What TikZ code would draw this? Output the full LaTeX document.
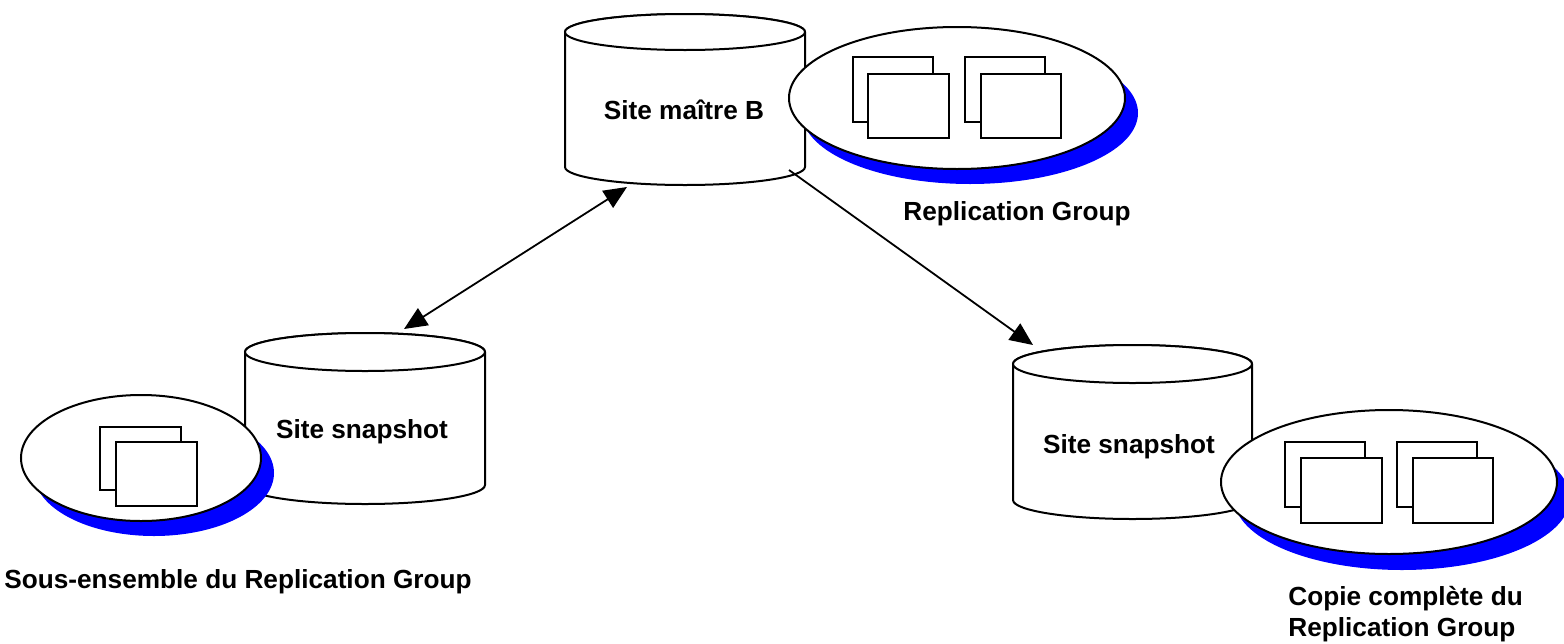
\documentclass[tikz,border=0pt]{standalone}
\usepackage{fontspec}
\setmainfont{Liberation Sans}
\usetikzlibrary{arrows.meta}
\definecolor{shadowblue}{RGB}{0,0,255}
\tikzset{
  outline/.style={draw=black, line width=1pt, fill=white},
  shadowfill/.style={fill=shadowblue, draw=none},
  lbl/.style={font=\fontsize{13.1}{15.5}\selectfont\bfseries, inner sep=0pt},
  conn/.style={draw=black, line width=0.9pt},
  tip/.style={-{Triangle[length=11.5pt,width=10pt]}},
  tips/.style={{Triangle[length=11.5pt,width=10pt]}-{Triangle[length=11.5pt,width=10pt]}}
}
\begin{document}
\begin{tikzpicture}[x=0.5pt,y=0.5pt]
\useasboundingbox (0,0) rectangle (1564,-643);
\fill[white] (0,0) rectangle (1564,-643);

% ---------- master cylinder ----------
\path[outline] (565,-32) -- (565,-167) arc[start angle=180,end angle=360,x radius=120,y radius=18] -- (805,-32) arc[start angle=0,end angle=180,x radius=120,y radius=18] -- cycle;
\draw[outline] (685,-32) ellipse [x radius=120, y radius=18];
\node[lbl] (master) at (684,-110) {Site maître B};

% ---------- left snapshot cylinder ----------
\path[outline] (245,-352) -- (245,-485) arc[start angle=180,end angle=360,x radius=120,y radius=19] -- (485,-352) arc[start angle=0,end angle=180,x radius=120,y radius=19] -- cycle;
\draw[outline] (365,-352) ellipse [x radius=120, y radius=19];
\node[lbl] (snapL) at (362,-432) {Site snapshot};

% ---------- right snapshot cylinder ----------
\path[outline] (1013,-364) -- (1013,-500) arc[start angle=180,end angle=360,x radius=119.5,y radius=19] -- (1252,-364) arc[start angle=0,end angle=180,x radius=119.5,y radius=19] -- cycle;
\draw[outline] (1132.5,-364) ellipse [x radius=119.5, y radius=19];
\node[lbl] (snapR) at (1129,-447) {Site snapshot};

% ---------- top replication group ----------
\fill[shadowfill] (970,-113) ellipse [x radius=168, y radius=71];
\draw[outline] (957,-98) ellipse [x radius=168, y radius=71];
\draw[outline] (853,-57) rectangle (933,-122);
\draw[outline] (868,-74) rectangle (949,-138);
\draw[outline] (965,-57) rectangle (1045,-122);
\draw[outline] (981,-74) rectangle (1061,-138);
\node[lbl] (rgT) at (1017,-214) {Replication Group};

% ---------- left subset group ----------
\fill[shadowfill] (154,-473) ellipse [x radius=120, y radius=63];
\draw[outline] (141,-458) ellipse [x radius=120, y radius=63];
\draw[outline] (100,-427) rectangle (181,-490);
\draw[outline] (116,-442) rectangle (197,-506);
\node[lbl] (rgL) at (238,-582) {Sous-ensemble du Replication Group};

% ---------- right full copy group ----------
\fill[shadowfill] (1402,-498) ellipse [x radius=168, y radius=72];
\draw[outline] (1389,-482) ellipse [x radius=168, y radius=72];
\draw[outline] (1285,-442) rectangle (1365,-507);
\draw[outline] (1301,-458) rectangle (1382,-523);
\draw[outline] (1397,-442) rectangle (1477,-507);
\draw[outline] (1413,-458) rectangle (1493,-523);
\node[lbl, align=left, anchor=west] (rgR) at (1288,-614) {Copie complète du\\Replication Group};

% ---------- connectors ----------
\coordinate (mBot) at (627,-187);
\coordinate (lTop) at (404,-329);
\coordinate (mOut) at (789,-170);
\coordinate (rTop) at (1033,-345);
\draw[conn, tips] (lTop) -- (mBot);
\draw[conn, tip] (mOut) -- (rTop);
\end{tikzpicture}
\end{document}
